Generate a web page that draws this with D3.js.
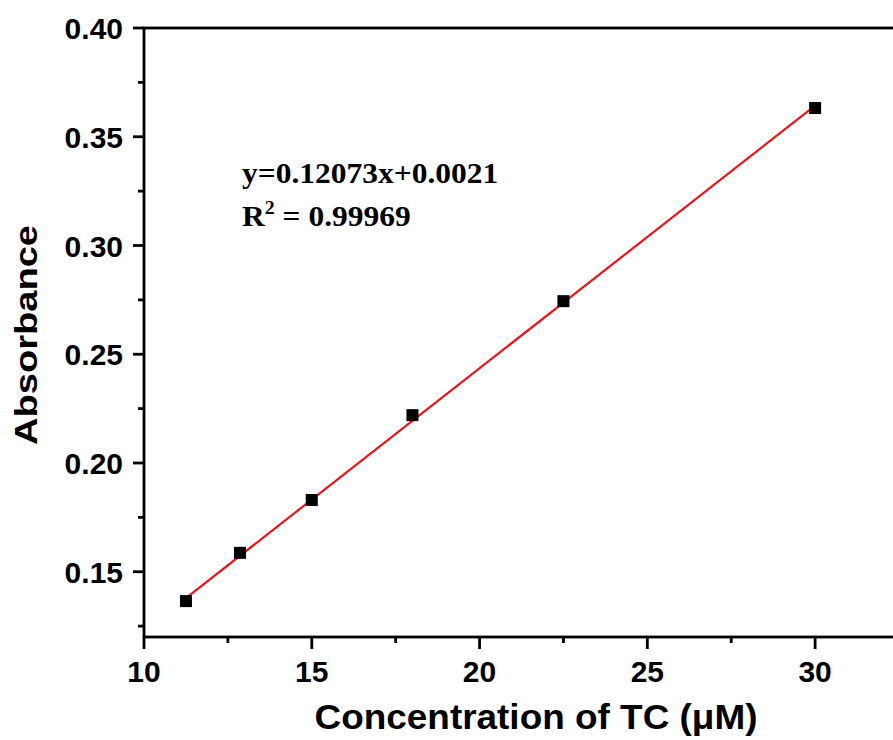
<!DOCTYPE html>
<html lang="en">
<head>
    <meta charset="UTF-8">
    <title>Absorbance vs TC concentration</title>
    <style>
        body { margin: 0; background: #fff; overflow: hidden; }
        svg { display: block; }
        .tick-label { font-family: "Liberation Sans", Arial, sans-serif; font-weight: bold; font-size: 30px; fill: #000; }
        .axis-title { font-family: "Liberation Sans", Arial, sans-serif; font-weight: bold; fill: #000; }
        .eq { font-family: "Liberation Serif", "Times New Roman", serif; font-weight: bold; font-size: 30px; fill: #000; }
    </style>
</head>
<body>
<div id="chart"></div>

<script src="https://cdnjs.cloudflare.com/ajax/libs/d3/7.8.5/d3.min.js"></script>
<script>
    // data
    const concentration = [11.25, 12.86, 15, 18, 22.5, 30];
    const absorbance = [0.1365, 0.1587, 0.1830, 0.2220, 0.2744, 0.3632];
    const fitX = [11.25, 30];
    const fitY = [0.1379, 0.3643];
    const xTicks = [10, 15, 20, 25, 30];
    const yTicks = [0.15, 0.20, 0.25, 0.30, 0.35, 0.40];
    const xMinor = [12.5, 17.5, 22.5, 27.5, 32.5];
    const yMinor = [0.125, 0.175, 0.225, 0.275, 0.325, 0.375];

    const width = 893, height = 740;
    const plotLeft = 144, plotTop = 28, plotRight = 899, plotBottom = 637;

    const svg = d3.select('#chart').append('svg')
        .attr('width', width)
        .attr('height', height);

    const x = d3.scaleLinear().domain([10, 32.5]).range([plotLeft, plotRight]);
    const y = d3.scaleLinear().domain([0.12, 0.40]).range([plotBottom, plotTop]);

    // frame
    svg.append('rect')
        .attr('x', plotLeft).attr('y', plotTop)
        .attr('width', plotRight - plotLeft).attr('height', plotBottom - plotTop)
        .attr('fill', 'none').attr('stroke', '#000').attr('stroke-width', 2.8);

    // x ticks
    const xAxis = svg.append('g').attr('transform', `translate(0,${plotBottom})`);
    xAxis.selectAll('line.major').data(xTicks).enter().append('line')
        .attr('x1', d => x(d)).attr('x2', d => x(d))
        .attr('y1', 0).attr('y2', 12)
        .attr('stroke', '#000').attr('stroke-width', 2.8);
    xAxis.selectAll('line.minor').data(xMinor).enter().append('line')
        .attr('x1', d => x(d)).attr('x2', d => x(d))
        .attr('y1', 0).attr('y2', 6)
        .attr('stroke', '#000').attr('stroke-width', 2.8);
    xAxis.selectAll('text').data(xTicks).enter().append('text')
        .attr('class', 'tick-label')
        .attr('x', d => x(d)).attr('y', 45)
        .attr('text-anchor', 'middle')
        .text(d => d);

    // y ticks
    const yAxis = svg.append('g').attr('transform', `translate(${plotLeft},0)`);
    yAxis.selectAll('line.major').data(yTicks).enter().append('line')
        .attr('x1', 0).attr('x2', -11)
        .attr('y1', d => y(d)).attr('y2', d => y(d))
        .attr('stroke', '#000').attr('stroke-width', 2.8);
    yAxis.selectAll('line.minor').data(yMinor).enter().append('line')
        .attr('x1', 0).attr('x2', -6)
        .attr('y1', d => y(d)).attr('y2', d => y(d))
        .attr('stroke', '#000').attr('stroke-width', 2.8);
    yAxis.selectAll('text').data(yTicks).enter().append('text')
        .attr('class', 'tick-label')
        .attr('x', -21).attr('y', d => y(d) + 11)
        .attr('text-anchor', 'end')
        .text(d => d.toFixed(2));

    // axis titles
    svg.append('text')
        .attr('class', 'axis-title')
        .attr('x', 536).attr('y', 729)
        .attr('text-anchor', 'middle')
        .style('font-size', '35px')
        .attr('textLength', 443)
        .attr('lengthAdjust', 'spacingAndGlyphs')
        .text('Concentration of TC (μM)');

    svg.append('text')
        .attr('class', 'axis-title')
        .attr('transform', 'translate(37,335) rotate(-90)')
        .attr('text-anchor', 'middle')
        .style('font-size', '32px')
        .attr('textLength', 220)
        .attr('lengthAdjust', 'spacingAndGlyphs')
        .text('Absorbance');

    // linear fit
    const line = d3.line().x(d => x(d[0])).y(d => y(d[1]));
    svg.append('path')
        .datum(d3.zip(fitX, fitY))
        .attr('d', line)
        .attr('fill', 'none')
        .attr('stroke', '#e8141b')
        .attr('stroke-width', 2.2);

    // data markers
    const ms = 12;
    svg.selectAll('rect.pt').data(d3.zip(concentration, absorbance)).enter().append('rect')
        .attr('class', 'pt')
        .attr('x', d => x(d[0]) - ms / 2)
        .attr('y', d => y(d[1]) - ms / 2)
        .attr('width', ms).attr('height', ms)
        .attr('fill', '#000');

    // equation
    const eq = svg.append('g').attr('transform', 'translate(242,0) scale(1.05,1)');
    eq.append('text').attr('class', 'eq')
        .attr('x', 0).attr('y', 183)
        .text('y=0.12073x+0.0021');
    const r2 = eq.append('text').attr('class', 'eq')
        .attr('x', 0).attr('y', 226);
    r2.append('tspan').text('R');
    r2.append('tspan').attr('dy', -12).style('font-size', '19px').text('2');
    r2.append('tspan').attr('dy', 12).text(' = 0.99969');
</script>
</body>
</html>
